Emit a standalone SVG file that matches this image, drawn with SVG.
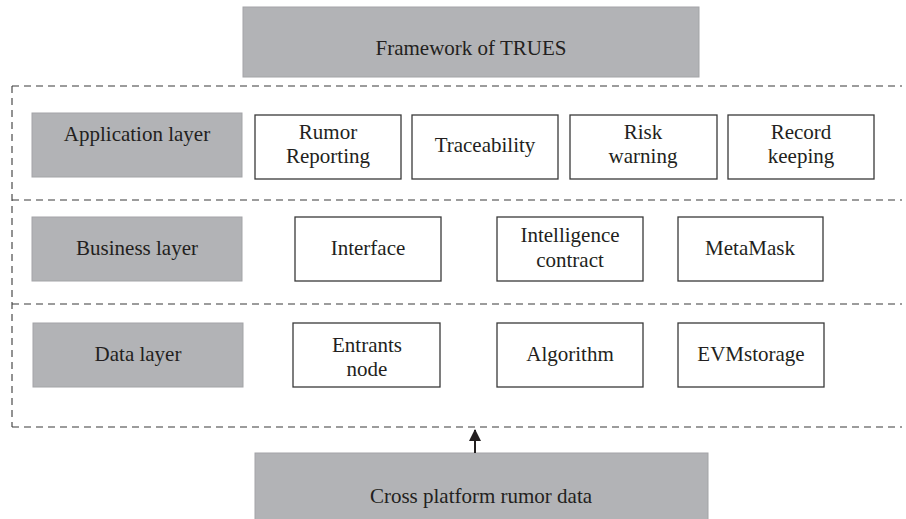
<svg xmlns="http://www.w3.org/2000/svg" width="906" height="519" viewBox="0 0 906 519">
<defs>
<style>
.t{font-family:"Liberation Serif","Times New Roman",serif;font-size:21px;fill:#231f20;text-anchor:middle}
.g{fill:#b2b3b6;stroke:#a3a4a7;stroke-width:1}
.w{fill:#ffffff;stroke:#3a3a3a;stroke-width:1.3}
.d{fill:none;stroke:#3a3a3a;stroke-width:1.1;stroke-dasharray:7 5}
</style>
<marker id="ah" markerWidth="12" markerHeight="12" refX="11" refY="6" viewBox="0 0 12 12" orient="auto" markerUnits="userSpaceOnUse">
<path d="M0,0 L12,6 L0,12 Z" fill="#231f20"/>
</marker>
</defs>
<rect width="906" height="519" fill="#ffffff"/>

<g id="frame">
<path class="d" d="M12,86 H902"/>
<path class="d" d="M12,200 H902"/>
<path class="d" d="M12,304 H902"/>
<path class="d" d="M12,427 H902"/>
<path class="d" d="M12,86 V427"/>
</g>

<g id="title"><rect class="g" x="243" y="7" width="456" height="70"/><text class="t" x="471" y="55">Framework of TRUES</text></g>

<g id="app-layer"><rect class="g" x="32" y="113" width="210" height="64"/><text class="t" x="137" y="141">Application layer</text></g>
<g id="rumor-reporting"><rect class="w" x="255" y="115" width="146" height="64"/><text class="t" x="328" y="139">Rumor</text><text class="t" x="328" y="163">Reporting</text></g>
<g id="traceability"><rect class="w" x="412" y="115" width="146" height="64"/><text class="t" x="485" y="152">Traceability</text></g>
<g id="risk-warning"><rect class="w" x="570" y="115" width="147" height="64"/><text class="t" x="643" y="139">Risk</text><text class="t" x="643" y="163">warning</text></g>
<g id="record-keeping"><rect class="w" x="728" y="115" width="146" height="64"/><text class="t" x="801" y="139">Record</text><text class="t" x="801" y="163">keeping</text></g>

<g id="business-layer"><rect class="g" x="32" y="217" width="210" height="64"/><text class="t" x="137" y="255">Business layer</text></g>
<g id="interface"><rect class="w" x="295" y="217" width="146" height="64"/><text class="t" x="368" y="255">Interface</text></g>
<g id="intelligence-contract"><rect class="w" x="497" y="217" width="146" height="64"/><text class="t" x="570" y="242">Intelligence</text><text class="t" x="570" y="267">contract</text></g>
<g id="metamask"><rect class="w" x="678" y="217" width="145" height="64"/><text class="t" x="750" y="255">MetaMask</text></g>

<g id="data-layer"><rect class="g" x="33" y="323" width="210" height="64"/><text class="t" x="138" y="361">Data layer</text></g>
<g id="entrants-node"><rect class="w" x="293" y="323" width="147" height="64"/><text class="t" x="367" y="352">Entrants</text><text class="t" x="367" y="376">node</text></g>
<g id="algorithm"><rect class="w" x="497" y="323" width="146" height="64"/><text class="t" x="570" y="361">Algorithm</text></g>
<g id="evmstorage"><rect class="w" x="678" y="323" width="146" height="64"/><text class="t" x="751" y="361">EVMstorage</text></g>

<g id="cross-platform"><rect class="g" x="255" y="453" width="453" height="70"/><text class="t" x="481" y="503">Cross platform rumor data</text></g>

<g id="connectors">
<line x1="475" y1="453" x2="475" y2="430" stroke="#231f20" stroke-width="2" marker-end="url(#ah)"/>
</g>
</svg>
